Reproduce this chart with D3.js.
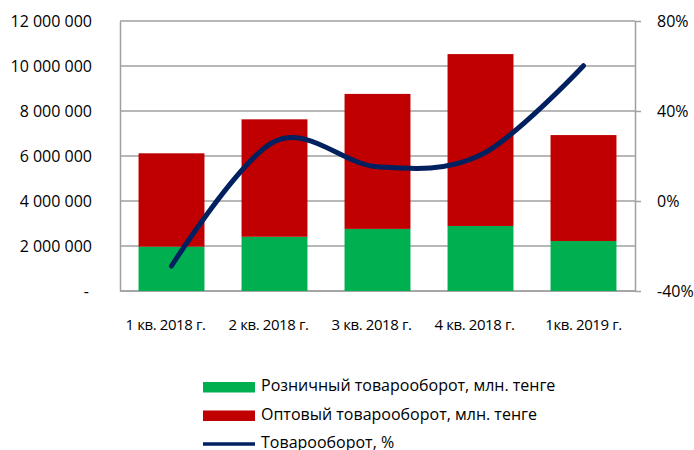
<!DOCTYPE html>
<html>
<head>
<meta charset="utf-8">
<script src="https://cdn.jsdelivr.net/npm/d3@7"></script>
<style>
  body { margin: 0; background: #fff; }
  text { font-family: "Open Sans", sans-serif; fill: #000; }
</style>
</head>
<body>
<div id="chart"></div>
<script>
// data
var quarters = ["1 кв. 2018 г.", "2 кв. 2018 г.", "3 кв. 2018 г.", "4 кв. 2018 г.", "1кв. 2019 г."];
var retail = [1970000, 2410000, 2760000, 2890000, 2220000];
var wholesale = [4150000, 5220000, 6000000, 7640000, 4710000];
var growth = [-28.9, 26.4, 15.2, 20.4, 60.1];
var leftTicks = [0, 2000000, 4000000, 6000000, 8000000, 10000000, 12000000];
var rightTicks = [-40, 0, 40, 80];
var legendNames = ["Розничный товарооборот, млн. тенге", "Оптовый товарооборот, млн. тенге", "Товарооборот, %"];

var green = "#00b050", red = "#c00000", navy = "#002060", grid = "#a0a0a0";
var fontSize = "16px";

var margin = {top: 21, right: 59, bottom: 159, left: 120},
    width = 694 - margin.left - margin.right,
    height = 450 - margin.top - margin.bottom;

var svg = d3.select("#chart")
  .append("svg")
    .attr("width", 694)
    .attr("height", 450)
  .append("g")
    .attr("transform", "translate(" + margin.left + "," + margin.top + ")");

var x = d3.scaleBand()
  .domain(quarters)
  .range([0, width])
  .paddingInner(0.36)
  .paddingOuter(0.18);

var y = d3.scaleLinear()
  .domain([0, 12000000])
  .range([height, 0]);

var y2 = d3.scaleLinear()
  .domain([-40, 80])
  .range([height, 0]);

// gridlines
svg.append("g")
  .selectAll("line")
  .data(leftTicks)
  .enter()
  .append("line")
    .attr("x1", 0)
    .attr("x2", width)
    .attr("y1", function(d) { return y(d); })
    .attr("y2", function(d) { return y(d); })
    .style("stroke", grid)
    .style("stroke-width", 1.5);

// left axis
var fmt = function(d) { return d === 0 ? "-" : d3.format(",")(d).replace(/,/g, " "); };
var leftAxis = svg.append("g")
  .call(d3.axisLeft(y).tickValues(leftTicks).tickFormat(fmt).tickSize(0).tickPadding(28));
leftAxis.select(".domain").style("stroke", grid).style("stroke-width", 1.5);
leftAxis.selectAll("text").style("font-size", fontSize);
leftAxis.selectAll("text").filter(function(d) { return d === 0; }).attr("dx", -3);

// right axis
var rightAxis = svg.append("g")
  .attr("transform", "translate(" + width + ",0)")
  .call(d3.axisRight(y2).tickValues(rightTicks).tickFormat(function(d) { return d + "%"; }).tickSize(6).tickSizeOuter(0).tickPadding(16));
rightAxis.select(".domain").style("stroke", grid).style("stroke-width", 1.5);
rightAxis.selectAll(".tick line").style("stroke", grid).style("stroke-width", 1.5);
rightAxis.selectAll("text").style("font-size", fontSize);

// bottom baseline
svg.append("line")
  .attr("x1", 0).attr("x2", width)
  .attr("y1", height).attr("y2", height)
  .style("stroke", grid).style("stroke-width", 1.5);

// category labels (the 2018 ones sit a little left of their bars)
svg.append("g")
  .selectAll("text")
  .data(quarters)
  .enter()
  .append("text")
    .attr("x", function(d, i) { return x(d) + x.bandwidth() / 2 - (i < 4 ? 6 : 0); })
    .attr("y", height + 35)
    .attr("text-anchor", "middle")
    .attr("dominant-baseline", "middle")
    .style("font-size", "15px")
    .style("letter-spacing", "-0.4px")
    .text(function(d) { return d; });

// stacked bars
var bars = svg.append("g");
bars.selectAll(".retail")
  .data(quarters)
  .enter()
  .append("rect")
    .attr("class", "retail")
    .attr("x", function(d) { return x(d); })
    .attr("width", x.bandwidth())
    .attr("y", function(d, i) { return y(retail[i]); })
    .attr("height", function(d, i) { return height - y(retail[i]); })
    .style("fill", green);
bars.selectAll(".wholesale")
  .data(quarters)
  .enter()
  .append("rect")
    .attr("class", "wholesale")
    .attr("x", function(d) { return x(d); })
    .attr("width", x.bandwidth())
    .attr("y", function(d, i) { return y(retail[i] + wholesale[i]); })
    .attr("height", function(d, i) { return y(retail[i]) - y(retail[i] + wholesale[i]); })
    .style("fill", red);

// growth line
var line = d3.line()
  .x(function(d, i) { return x(quarters[i]) + x.bandwidth() / 2; })
  .y(function(d) { return y2(d); })
  .curve(d3.curveCardinal.tension(0));

svg.append("path")
  .datum(growth)
  .attr("d", line)
  .style("fill", "none")
  .style("stroke", navy)
  .style("stroke-width", 5)
  .style("stroke-linecap", "round");

// legend
var legend = d3.select("svg").append("g")
  .attr("transform", "translate(203,387)");
var rows = legend.selectAll("g")
  .data(legendNames)
  .enter()
  .append("g")
    .attr("transform", function(d, i) { return "translate(0," + (i * 28.5) + ")"; });
rows.filter(function(d, i) { return i < 2; })
  .append("rect")
    .attr("x", 0).attr("y", -5)
    .attr("width", 52).attr("height", 10.5)
    .style("fill", function(d, i) { return i === 0 ? green : red; });
rows.filter(function(d, i) { return i === 2; })
  .append("line")
    .attr("x1", 0).attr("x2", 52)
    .style("stroke", navy).style("stroke-width", 3.5);
rows.append("text")
  .attr("x", 58)
  .attr("dominant-baseline", "middle")
  .style("font-size", fontSize)
  .text(function(d) { return d; });
</script>
</body>
</html>
